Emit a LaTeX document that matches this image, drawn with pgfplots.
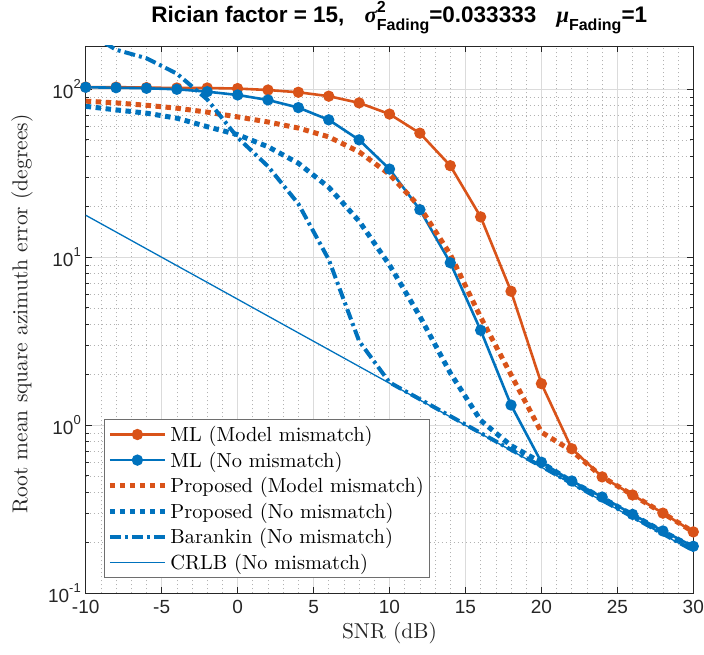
\documentclass[border=0pt]{standalone}
\usepackage{pgfplots}
\pgfplotsset{compat=1.18}
\usepackage{fontspec}
\newfontfamily\helv{Liberation Sans}
\newfontfamily\greekit{Liberation Serif}
\newfontfamily\lmten{lmroman10-regular.otf}
\definecolor{mlorange}{RGB}{217,83,25}
\definecolor{mlblue}{RGB}{0,114,189}
\definecolor{axgray}{RGB}{38,38,38}
\newcommand\tpow[1]{10\raisebox{0.5em}{\fontsize{13}{13}\selectfont #1}}
\newcommand\ssz{\fontsize{16}{16}\selectfont}
\begin{document}
\begin{tikzpicture}
\useasboundingbox (-85.7pt,-61.7pt) rectangle (618.3pt,593.3pt);
\begin{axis}[
  at={(0pt,0pt)}, anchor=south west,
  scale only axis, width=607.6pt, height=547.3pt,
  xmin=-10, xmax=30, ymode=log, ymin=0.1, ymax=181,
  xtick={-10,-5,0,5,10,15,20,25,30},
  xticklabels={-10,-5,0,5,10,15,20,25,30},
  ytick={0.1,1,10,100},
  yticklabels={\tpow{-1},\tpow{0},\tpow{1},\tpow{2}},
  minor xtick={-9,-8,-7,-6,-4,-3,-2,-1,1,2,3,4,6,7,8,9,11,12,13,14,16,17,18,19,21,22,23,24,26,27,28,29},
  minor ytick={0.2,0.3,0.4,0.5,0.6,0.7,0.8,0.9,2,3,4,5,6,7,8,9,20,30,40,50,60,70,80,90},
  grid=both,
  major grid style={color=black!14, line width=0.8pt},
  minor grid style={color=black!30, dash pattern=on 1pt off 3pt, line width=0.6pt},
  tick align=inside, major tick length=6pt, minor tick length=3.5pt,
  minor x tick style={draw opacity=0},
  every tick/.style={axgray, line width=0.8pt},
  axis line style={axgray, line width=0.8pt},
  ticklabel style={font=\helv\fontsize{19}{19}\selectfont, text=axgray},
  xticklabel style={yshift=-3.5pt},
  yticklabel style={xshift=-1.4pt},
  xlabel={SNR (dB)},
  ylabel={Root mean square azimuth error (degrees)},
  label style={font=\lmten\fontsize{21.5}{26}\selectfont, text=axgray},
  xlabel style={at={(axis description cs:0.5,-0.0725)}, anchor=center},
  ylabel style={at={(axis description cs:-0.1048,0.51)}, anchor=center},
  title={Rician factor = 15,\hspace{0.9em}{\greekit\itshape σ}\makebox[0pt][l]{\raisebox{0.45em}{\ssz 2}}\raisebox{-0.35em}{\ssz Fading}=0.033333\hspace{0.9em}{\greekit\itshape μ}\raisebox{-0.35em}{\ssz Fading}=1},
  title style={at={(axis description cs:0.516,1.0317)}, anchor=base, font=\helv\bfseries\fontsize{22.5}{24}\selectfont, text=black},
  legend style={at={(axis description cs:0.0301,0.3179)}, anchor=north west,
    draw={rgb,255:red,110;green,110;blue,110}, line width=0.8pt, fill=white,
    font=\lmten\fontsize{20.4}{24}\selectfont, text=black,
    inner xsep=3pt, inner ysep=2pt, row sep=0pt,
    nodes={inner ysep=4.4pt, inner xsep=3pt}},
  legend cell align=left,
  legend image code/.code={\draw[mark repeat=2,mark phase=2,#1] plot coordinates {(0pt,0pt) (27.5pt,0pt) (55pt,0pt)};},
]
% ML (Model mismatch)
\addplot[mlorange, line width=2.6pt, mark=*, mark size=4.3pt, mark options={solid}] coordinates {
(-10,103) (-8,103) (-6,102.3) (-4,101.8) (-2,101.8) (0,101) (2,99) (4,96) (6,91) (8,83)
(10,71.2) (12,54.8) (14,35.1) (16,17.4) (18,6.28) (20,1.77) (22,0.725) (24,0.493) (26,0.385) (28,0.30) (30,0.232)};
\addlegendentry{ML (Model mismatch)}
% ML (No mismatch)
\addplot[mlblue, line width=2.6pt, mark=*, mark size=4.3pt, mark options={solid}] coordinates {
(-10,102.8) (-8,102.2) (-6,101.4) (-4,100) (-2,96.8) (0,92.5) (2,86.4) (4,77.8) (6,65.8) (8,50)
(10,33.5) (12,19.2) (14,9.28) (16,3.68) (18,1.32) (20,0.603) (22,0.466) (24,0.374) (26,0.295) (28,0.235) (30,0.1905)};
\addlegendentry{ML (No mismatch)}
% Proposed (Model mismatch)
\addplot[mlorange, line width=5pt, dash pattern=on 5.5pt off 4.5pt] coordinates {
(-10,85) (-8,83) (-6,80.3) (-4,77.2) (-2,73.1) (0,68.5) (2,63.9) (4,58.8) (6,52.1) (8,42.4)
(10,31.2) (12,19.9) (14,10.4) (16,4.4) (18,2.0) (20,0.91) (22,0.705) (24,0.493) (26,0.385) (28,0.30) (30,0.232)};
\addlegendentry{Proposed (Model mismatch)}
% Proposed (No mismatch)
\addplot[mlblue, line width=5pt, dash pattern=on 5.5pt off 4.5pt] coordinates {
(-10,79.2) (-8,75.4) (-6,72.1) (-4,67.3) (-2,59.9) (0,53.7) (2,45.5) (4,36.3) (6,26.1) (8,16.4)
(10,9.0) (12,4.45) (14,2.05) (16,1.07) (18,0.757) (20,0.6) (22,0.462) (24,0.37) (26,0.293) (28,0.233) (30,0.188)};
\addlegendentry{Proposed (No mismatch)}
% Barankin (No mismatch)
\addplot[mlblue, line width=4pt, dash pattern=on 11pt off 4pt on 3pt off 4pt] coordinates {
(-10,220) (-8,172) (-6,153) (-4,124) (-2,87) (0,51.6) (2,34.8) (4,20.8) (6,9.7) (8,3.17)
(10,1.8) (12,1.43) (14,1.134) (16,0.90) (18,0.716) (20,0.569) (22,0.451) (24,0.358) (26,0.285) (28,0.226) (30,0.18)};
\addlegendentry{Barankin (No mismatch)}
% CRLB (No mismatch)
\addplot[mlblue, line width=1.3pt] coordinates {
(-10,17.8) (-8,14.14) (-6,11.23) (-4,8.92) (-2,7.09) (0,5.63) (2,4.47) (4,3.55) (6,2.82) (8,2.24)
(10,1.78) (12,1.414) (14,1.123) (16,0.892) (18,0.709) (20,0.563) (22,0.447) (24,0.355) (26,0.282) (28,0.224) (30,0.178)};
\addlegendentry{CRLB (No mismatch)}
\end{axis}
\end{tikzpicture}
\end{document}
